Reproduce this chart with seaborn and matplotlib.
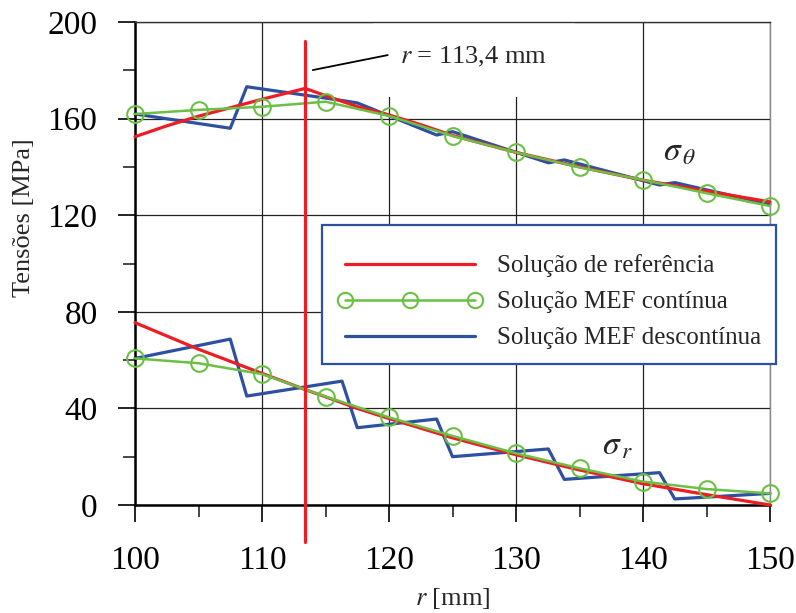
import matplotlib
matplotlib.use("Agg")
import matplotlib.pyplot as plt
import seaborn as sns
import pandas as pd
from matplotlib.ticker import MultipleLocator
from matplotlib.lines import Line2D

# ---------------- data ----------------
r_ref = [100, 102.5, 105, 107.5, 110, 113.4, 115, 117.5, 120, 122.5, 125, 130, 135, 140, 145, 150]
ref_theta = [152.5, 157, 161, 164.5, 168, 172.5, 169.5, 165, 161.5, 157.5, 153, 146, 140, 134.5, 130, 125.5]
ref_r = [75.5, 70, 64.5, 59.5, 54.5, 47.8, 44.8, 40, 35.8, 31.8, 27.8, 20.8, 14.5, 8.8, 4.3, 0]

r_cont = [100, 105, 110, 115, 120, 125, 130, 135, 140, 145, 150]
cont_theta = [161.9, 163.6, 164.9, 167.0, 161.1, 152.8, 146.0, 139.8, 134.6, 129.1, 123.8]
cont_r = [60.7, 58.7, 54.2, 44.9, 36.3, 28.6, 21.4, 15.2, 9.7, 6.6, 4.8]

r_disc = [100, 107.5, 108.8, 116.3, 117.5, 123.75, 125, 132.55, 133.8, 141.3, 142.5, 150]
disc_theta = [161.9, 156.0, 173.2, 167.5, 166.5, 153.2, 154.6, 141.7, 142.9, 132.5, 133.5, 124.5]
disc_r = [60.7, 68.7, 45.1, 51.3, 32.0, 35.6, 20.0, 23.2, 10.6, 13.4, 2.5, 4.8]

r_interface = 113.4
vline_y = [192, -15.5]
annot_line_r = [114.0, 119.9]
annot_line_y = [180.1, 186.3]

labels = ["Solução de referência", "Solução MEF contínua", "Solução MEF descontínua"]
x_ticks = [100, 110, 120, 130, 140, 150]
y_ticks = [0, 40, 80, 120, 160, 200]

RED = "#EE1D23"
GREEN = "#6CBF45"
BLUE = "#2D50A0"

# ---------------- style ----------------
sns.set_theme(style="white")
plt.rcParams["font.family"] = ["Liberation Serif", "DejaVu Serif"]
plt.rcParams["mathtext.fontset"] = "stix"

fig = plt.figure(figsize=(7.96, 6.13), dpi=100)
ax = fig.add_axes([135 / 796, 1 - 505 / 613, 635 / 796, 483 / 613])

df_ref = pd.DataFrame({"r": r_ref, "theta": ref_theta, "rad": ref_r})
df_cont = pd.DataFrame({"r": r_cont, "theta": cont_theta, "rad": cont_r})
df_disc = pd.DataFrame({"r": r_disc, "theta": disc_theta, "rad": disc_r})

for col in ["theta", "rad"]:
    sns.lineplot(data=df_disc, x="r", y=col, ax=ax, color=BLUE, lw=2.3,
                 estimator=None, sort=False, zorder=2, clip_on=False)
    sns.lineplot(data=df_ref, x="r", y=col, ax=ax, color=RED, lw=2.3,
                 estimator=None, sort=False, zorder=3, clip_on=False)
    sns.lineplot(data=df_cont, x="r", y=col, ax=ax, color=GREEN, lw=1.8,
                 estimator=None, sort=False, zorder=4, clip_on=False,
                 marker="o", markersize=12, markerfacecolor="none",
                 markeredgecolor=GREEN, markeredgewidth=1.5)

# interface line
ax.plot([r_interface, r_interface], vline_y, color=RED, lw=2.3, zorder=6, clip_on=False)

# annotation
ax.text(annot_line_r[1] + 1.0, 185.5, r"$r$ = 113,4 mm", fontsize=19, ha="left", va="center",
        zorder=1.5, bbox=dict(facecolor="white", edgecolor="none", pad=20))
ax.plot(annot_line_r, annot_line_y, color="black", lw=1.3, zorder=5)

ax.text(141.6, 146, r"$\sigma_{\,\theta}$", fontsize=24, ha="left", va="center")
ax.text(136.8, 24.5, r"$\sigma_{\,r}$", fontsize=24, ha="left", va="center")

# axes
ax.set_xlim(100, 150)
ax.set_ylim(0, 200)
ax.set_xticks(x_ticks)
ax.set_yticks(y_ticks)
ax.xaxis.set_minor_locator(MultipleLocator(5))
ax.yaxis.set_minor_locator(MultipleLocator(20))
ax.tick_params(which="major", direction="out", length=12, width=1.2, labelsize=24,
               colors="black", bottom=True, left=True)
ax.tick_params(axis="x", which="major", pad=17)
ax.tick_params(axis="y", which="major", pad=15)
ax.tick_params(which="minor", direction="out", length=8.5, width=1.2, bottom=True, left=True)
ax.grid(True, which="major", color="#222222", lw=0.9)
ax.set_axisbelow(True)
for s in ["left", "bottom"]:
    ax.spines[s].set_color("black")
    ax.spines[s].set_linewidth(1.8)
ax.spines["top"].set_color("#333333")
ax.spines["top"].set_linewidth(1.0)
ax.spines["right"].set_color("#888888")
ax.spines["right"].set_linewidth(1.0)

ax.set_xlabel(r"$r$ [mm]", fontsize=19)
ax.set_ylabel("Tensões [MPa]", fontsize=19)
ax.xaxis.set_label_coords(0.5, -0.168)
ax.yaxis.set_label_coords(-0.158, 0.594)

handles = [
    Line2D([], [], color=RED, lw=2.3),
    Line2D([], [], color=GREEN, lw=1.8, marker="o", markersize=11, markerfacecolor="none",
           markeredgecolor=GREEN, markeredgewidth=1.5),
    Line2D([], [], color=BLUE, lw=2.3),
]
leg = ax.legend(handles, labels, loc="upper left",
                bbox_to_anchor=(322 / 796, 1 - 225 / 613), bbox_transform=fig.transFigure,
                borderaxespad=0, fontsize=18, numpoints=3, handlelength=5.8,
                handletextpad=0.6, labelspacing=0.54, borderpad=0.6,
                title=" ", title_fontsize=1,
                fancybox=False, framealpha=1, edgecolor=BLUE)
leg.get_frame().set_linewidth(1.6)
leg.set_zorder(7)

fig.savefig("out.png", dpi=100)
